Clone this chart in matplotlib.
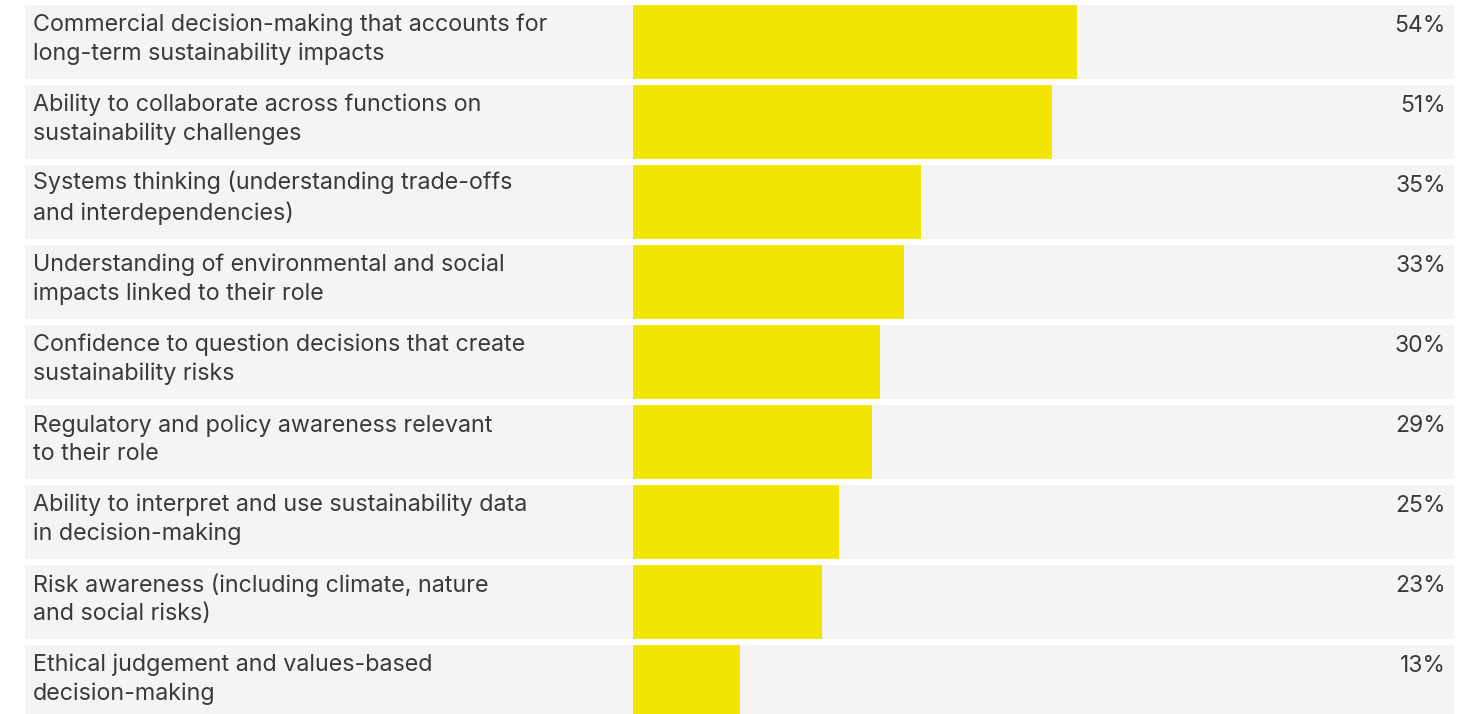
import matplotlib.pyplot as plt

labels = [
    "Commercial decision-making that accounts for\nlong-term sustainability impacts",
    "Ability to collaborate across functions on\nsustainability challenges",
    "Systems thinking (understanding trade-offs\nand interdependencies)",
    "Understanding of environmental and social\nimpacts linked to their role",
    "Confidence to question decisions that create\nsustainability risks",
    "Regulatory and policy awareness relevant\nto their role",
    "Ability to interpret and use sustainability data\nin decision-making",
    "Risk awareness (including climate, nature\nand social risks)",
    "Ethical judgement and values-based\ndecision-making",
]
values = [54, 51, 35, 33, 30, 29, 25, 23, 13]

yellow = "#f2e500"
row_grey = "#f4f4f4"
text_col = "#3a3a3a"

W, H = 1481, 714
px_per_pct = 8.225      # pixels per percentage point
x0 = 633                # pixel where bars start
pitch = 80              # pixel distance between rows

def px(x):
    return (x - x0) / px_per_pct

fig = plt.figure(figsize=(W / 100, H / 100), dpi=100)
ax = fig.add_axes([0, 0, 1, 1])
ax.set_xlim(px(0), px(W))
ax.set_ylim((H - 42) / pitch, -42 / pitch)
ax.axis("off")

y = list(range(len(values)))
h = 74 / pitch

# grey row backgrounds, then the value bars on top
ax.barh(y, px(1454) - px(25), left=px(25), height=h, color=row_grey, lw=0)
ax.barh(y, values, left=0, height=h, color=yellow, lw=0)

for i, (lab, v) in enumerate(zip(labels, values)):
    # multi-line text: baseline refers to the last line
    ax.text(px(33), i + 18 / pitch, lab, ha="left", va="baseline",
            fontsize=16.8, color=text_col, family="Inter", linespacing=1.38)
    ax.text(px(1446), i - 10 / pitch, f"{v}%", ha="right", va="baseline",
            fontsize=16.5, color=text_col, family="Inter")

fig.savefig("out.png", dpi=100)
